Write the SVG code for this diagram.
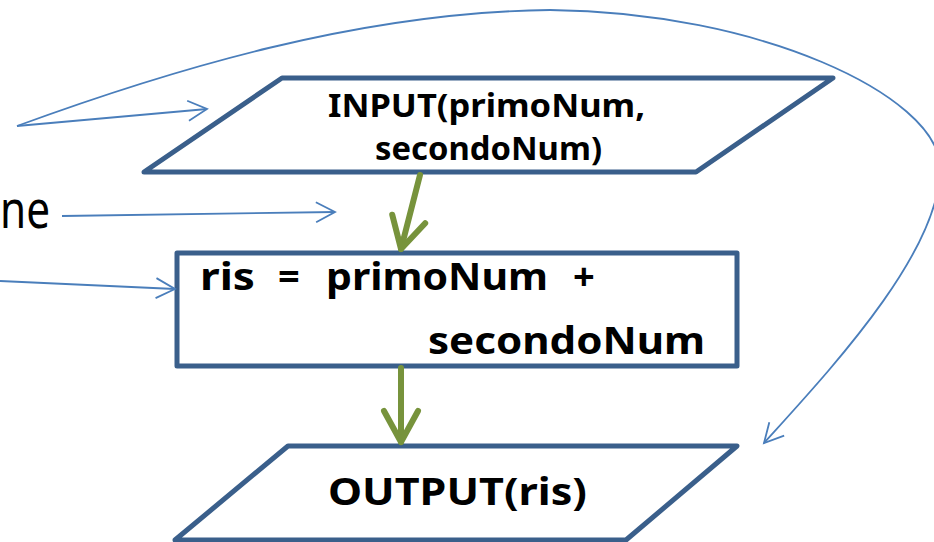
<svg xmlns="http://www.w3.org/2000/svg" width="934" height="542" viewBox="0 0 934 542">
  <style>
    .shape { fill: #ffffff; stroke: #3A5F8B; stroke-width: 5; stroke-linejoin: round; }
    .flow { fill: none; stroke: #77933C; stroke-width: 6; stroke-linecap: round; }
    .note { fill: none; stroke: #4A7EBB; stroke-width: 1.8; }
    .lbl { font-family: "Noto Sans", "DejaVu Sans", sans-serif; font-weight: bold; fill: #000000; }
    .side { font-family: "Noto Sans", "DejaVu Sans", sans-serif; fill: #000000; }
  </style>
  <defs>
    <marker id="openArrow" markerUnits="userSpaceOnUse" viewBox="-22 -12 24 24" refX="0" refY="0" markerWidth="24" markerHeight="24" orient="auto" overflow="visible">
      <path d="M-19,-10 L0,0 L-19,10" fill="none" stroke="#4A7EBB" stroke-width="1.8"/>
    </marker>
    <marker id="flowArrow" markerUnits="userSpaceOnUse" viewBox="-36 -20 40 40" refX="0" refY="0" markerWidth="40" markerHeight="40" orient="auto" overflow="visible">
      <path d="M-31,-17 L0,0 L-31,17" fill="none" stroke="#77933C" stroke-width="6" stroke-linecap="round" stroke-linejoin="round"/>
    </marker>
  </defs>

  <!-- side label, partly outside the left edge -->
  <text class="side" x="0" y="228" font-size="52" textLength="50" lengthAdjust="spacingAndGlyphs">ne</text>

  <g id="input-node">
    <polygon class="shape" points="282,78 833,78 696,172 144,172"/>
    <text class="lbl" x="328" y="117" font-size="33" textLength="317" lengthAdjust="spacingAndGlyphs">INPUT(primoNum,</text>
    <text class="lbl" x="375" y="160" font-size="33" textLength="227" lengthAdjust="spacingAndGlyphs">secondoNum)</text>
  </g>

  <g id="assign-node">
    <rect class="shape" x="177" y="253" width="560" height="113"/>
    <!-- first line set word by word to keep the wide gaps -->
    <text class="lbl" font-size="38" y="290"><tspan x="200" textLength="55" lengthAdjust="spacingAndGlyphs">ris</tspan><tspan x="278">=</tspan><tspan x="326" textLength="222" lengthAdjust="spacingAndGlyphs">primoNum</tspan><tspan x="573">+</tspan></text>
    <text class="lbl" x="428" y="354" font-size="38" textLength="277" lengthAdjust="spacingAndGlyphs">secondoNum</text>
  </g>

  <g id="output-node">
    <polygon class="shape" points="288,446 737,446 626,540 175,540"/>
    <text class="lbl" x="328" y="505" font-size="38" textLength="259" lengthAdjust="spacingAndGlyphs">OUTPUT(ris)</text>
  </g>

  <g id="connectors">
    <!-- flow between steps -->
    <path class="flow" d="M420,175 L401,249" marker-end="url(#flowArrow)"/>
    <path class="flow" d="M401,368 L401,442" marker-end="url(#flowArrow)"/>
    <!-- annotation pointers -->
    <path class="note" d="M17,126 L207,109" marker-end="url(#openArrow)"/>
    <path class="note" d="M62,216 L335,212" marker-end="url(#openArrow)"/>
    <path class="note" d="M0,281 L175,289" marker-end="url(#openArrow)"/>
    <path class="note" d="M17,126 C170,70 360,12 550,10 C760,12 935,95 940,165 C943,250 830,370 764,443" marker-end="url(#openArrow)"/>
  </g>
</svg>
